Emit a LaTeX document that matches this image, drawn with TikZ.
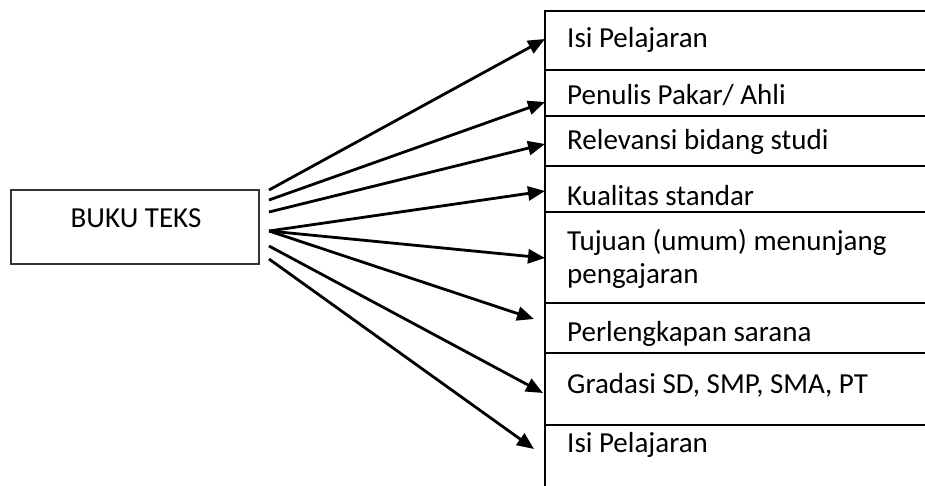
\documentclass[tikz,border=0pt]{standalone}
\usepackage{fontspec}
\setmainfont{Carlito}
\usetikzlibrary{arrows.meta}
\begin{document}
\begin{tikzpicture}[x=1pt,y=-1pt,
  rbox/.style={draw=black, line width=2pt, minimum width=420pt, anchor=north west, inner sep=0pt, outer sep=0pt},
  mainbox/.style={draw=black!80, line width=1.6pt, minimum width=248pt, minimum height=74pt, inner sep=0pt},
  lbl/.style={font=\fontsize{29}{33}\selectfont, inner sep=0pt, anchor=base west},
  arr/.style={line width=2.8pt, -{Triangle[length=17pt,width=14pt]}}]
\clip (0,0) rectangle (925,486);
\fill[white] (0,0) rectangle (925,486);
% main box
\node[mainbox] (bk) at (135,227) {};
\node[lbl, anchor=base] (bkt) at (136,228) {BUKU TEKS};
% right boxes
\node[rbox, minimum height=59pt] (r1) at (545,11) {};
\node[rbox, minimum height=46pt] (r2) at (545,70) {};
\node[rbox, minimum height=50pt] (r3) at (545,116) {};
\node[rbox, minimum height=46pt] (r4) at (545,166) {};
\node[rbox, minimum height=91pt] (r5) at (545,212) {};
\node[rbox, minimum height=50pt] (r6) at (545,303) {};
\node[rbox, minimum height=72pt] (r7) at (545,353) {};
\node[rbox, minimum height=100pt] (r8) at (545,425) {};
% labels
\node[lbl] (t1) at (567,48) {Isi Pelajaran};
\node[lbl] (t2) at (567,105) {Penulis Pakar/ Ahli};
\node[lbl] (t3) at (567,150) {Relevansi bidang studi};
\node[lbl] (t4) at (567,206) {Kualitas standar};
\node[lbl] (t5) at (567,250) {Tujuan (umum) menunjang};
\node[lbl] (t5b) at (567,283) {pengajaran};
\node[lbl] (t6) at (567,341) {Perlengkapan sarana};
\node[lbl] (t7) at (567,393) {Gradasi SD, SMP, SMA, PT};
\node[lbl] (t8) at (567,452) {Isi Pelajaran};
% arrow start points
\coordinate (s1) at (269,190);
\coordinate (s2) at (269,200);
\coordinate (s3) at (269,212);
\coordinate (s4) at (269,231);
\coordinate (s7) at (269,246);
\coordinate (s8) at (269,259);
% arrow tips
\coordinate (e1) at (545,39);
\coordinate (e2) at (545,102);
\coordinate (e3) at (545,144);
\coordinate (e4) at (545,191);
\coordinate (e5) at (545,258);
\coordinate (e6) at (534,319);
\coordinate (e7) at (543,393);
\coordinate (e8) at (534,449);
\draw[arr] (s1) -- (e1);
\draw[arr] (s2) -- (e2);
\draw[arr] (s3) -- (e3);
\draw[arr] (s4) -- (e4);
\draw[arr] (s4) -- (e5);
\draw[arr] (s4) -- (e6);
\draw[arr] (s7) -- (e7);
\draw[arr] (s8) -- (e8);
\end{tikzpicture}
\end{document}
